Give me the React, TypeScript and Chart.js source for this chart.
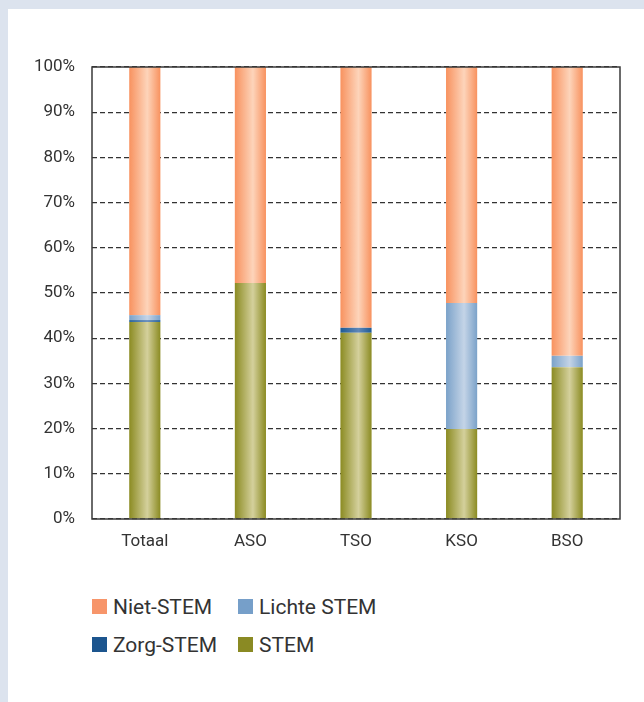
import React, { useEffect, useRef } from "react";
import { Chart, registerables } from "chart.js";
Chart.register(...registerables);

const categories = ["Totaal", "ASO", "TSO", "KSO", "BSO"];
const stem = [43.6, 52.2, 41.2, 19.9, 33.6];
const zorgStem = [0.4, 0, 1.1, 0, 0];
const lichteStem = [1.1, 0, 0, 27.9, 2.5];
const nietStem = [54.9, 47.8, 57.7, 52.2, 63.9];
const seriesNames = ["STEM", "Zorg-STEM", "Lichte STEM", "Niet-STEM"];
const legendOrder = ["Niet-STEM", "Lichte STEM", "Zorg-STEM", "STEM"];

const SOLID: Record<string, string> = {
  "Niet-STEM": "#f7956a",
  "Lichte STEM": "#769fc9",
  "Zorg-STEM": "#1c558e",
  STEM: "#8a8a23",
};
const GRAD: Record<string, [string, string]> = {
  "Niet-STEM": ["#f8925f", "#fdd4ba"],
  "Lichte STEM": ["#7ba2c9", "#c4d4e7"],
  "Zorg-STEM": ["#1d5a94", "#5f87b8"],
  STEM: ["#8b8b22", "#d4d09c"],
};
const BAR_PCT = 0.295;
const FONT = "Roboto, 'DejaVu Sans', sans-serif";

const framePlugin = {
  id: "frame",
  afterDatasetsDraw(chart: any) {
    const { ctx, chartArea: a } = chart;
    ctx.save();
    ctx.strokeStyle = "#3a3a3a";
    ctx.lineWidth = 1.5;
    ctx.setLineDash([]);
    ctx.strokeRect(a.left, a.top, a.right - a.left, a.bottom - a.top);
    ctx.restore();
  },
};

export default function App() {
  const ref = useRef<HTMLCanvasElement | null>(null);
  useEffect(() => {
    if (!ref.current) return;
    const values = [stem, zorgStem, lichteStem, nietStem];
    const chart = new Chart(ref.current, {
      type: "bar",
      data: {
        labels: categories,
        datasets: seriesNames.map((name, i) => ({
          label: name,
          data: values[i],
          stack: "s",
          borderWidth: 0,
          barPercentage: BAR_PCT,
          categoryPercentage: 1,
          backgroundColor: (c: any) => {
            const chart = c.chart;
            const area = chart.chartArea;
            const [edge, mid] = GRAD[name];
            if (!area || c.type !== "data" || !chart.scales.x) return edge;
            const cx = chart.scales.x.getPixelForValue(c.dataIndex);
            const w = ((area.right - area.left) / categories.length) * BAR_PCT;
            const g = chart.ctx.createLinearGradient(cx - w / 2, 0, cx + w / 2, 0);
            g.addColorStop(0, edge);
            g.addColorStop(0.58, mid);
            g.addColorStop(1, edge);
            return g;
          },
        })),
      },
      options: {
        animation: false,
        responsive: true,
        maintainAspectRatio: false,
        layout: { padding: { left: 0, right: 24, top: 58, bottom: 0 } },
        plugins: { legend: { display: false }, tooltip: { enabled: false } },
        scales: {
          x: {
            stacked: true,
            grid: { display: false, drawTicks: false },
            border: { display: false },
            ticks: { color: "#333", font: { family: FONT, size: 17 }, padding: 13 },
            afterFit: (s: any) => {
              s.height = 40;
            },
          },
          y: {
            stacked: true,
            min: 0,
            max: 100,
            grid: { color: "#333", lineWidth: 1.2, drawTicks: false },
            border: { display: false, dash: [5, 3] },
            ticks: {
              stepSize: 10,
              color: "#333",
              font: { family: FONT, size: 17 },
              padding: 17,
              callback: (v: any) => v + "%",
            },
            afterFit: (s: any) => {
              s.width = 84;
            },
          },
        },
      },
      plugins: [framePlugin],
    });
    return () => chart.destroy();
  }, []);

  const legendPos = [
    { left: 84, top: 580.5 },
    { left: 230, top: 580.5 },
    { left: 84, top: 618.5 },
    { left: 230, top: 618.5 },
  ];

  return (
    <div style={{ position: "fixed", left: 0, top: 0, width: 644, height: 702, background: "#dce3ee" }}>
      <div style={{ position: "absolute", left: 8, top: 9, width: 636, height: 693, background: "#ffffff" }}>
        <div style={{ position: "absolute", left: 0, top: 0, width: 636, height: 550 }}>
          <canvas ref={ref} />
        </div>
        {legendOrder.map((name, i) => (
          <div
            key={name}
            style={{
              position: "absolute",
              left: legendPos[i].left,
              top: legendPos[i].top,
              height: 34,
              display: "flex",
              alignItems: "center",
              fontFamily: FONT,
              fontSize: 21,
              color: "#333",
              whiteSpace: "nowrap",
            }}
          >
            <span style={{ display: "inline-block", width: 15, height: 15, background: SOLID[name], marginRight: 6, flexShrink: 0 }} />
            <span>{name}</span>
          </div>
        ))}
      </div>
    </div>
  );
}
